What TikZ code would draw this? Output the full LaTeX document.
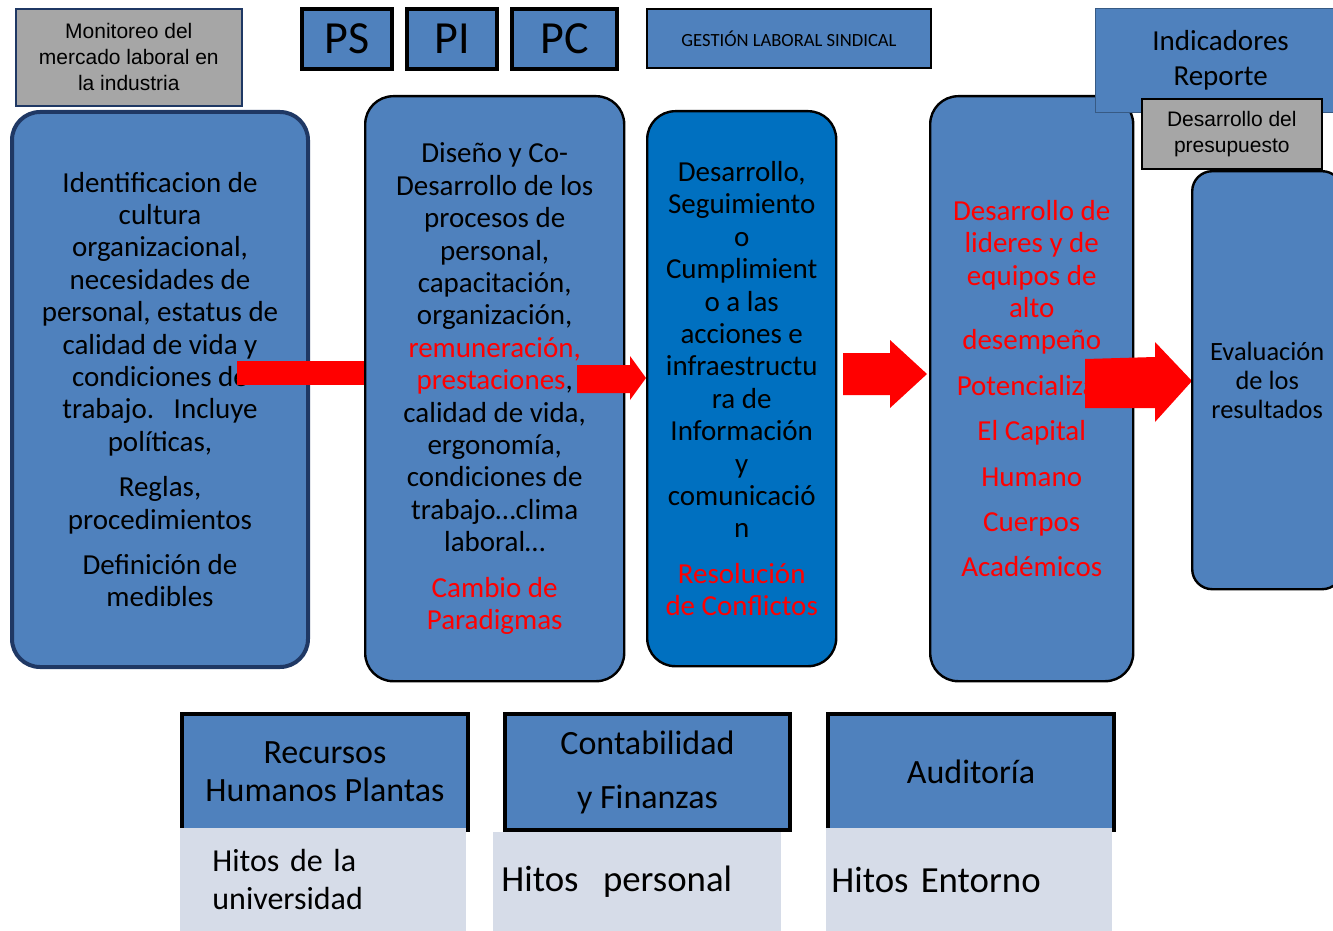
\documentclass[tikz,border=0pt]{standalone}
\usepackage{fontspec}
\setmainfont{Carlito}
\newfontfamily\arialf{Liberation Sans}
\usetikzlibrary{shapes,arrows,calc}
\definecolor{azul}{HTML}{4F81BD}
\definecolor{azulfuerte}{HTML}{0070C0}
\definecolor{gris}{HTML}{A6A6A6}
\definecolor{marino}{HTML}{1F3864}
\definecolor{claro}{HTML}{D6DCE8}
\newcommand{\cuerpo}{\fontsize{14.5}{16.2}\selectfont}
\tikzstyle{bloque} = [draw=black, line width=1.2pt, rounded corners=14pt, fill=azul, anchor=north west, align=center, inner sep=0pt, font=\cuerpo]
\tikzstyle{sigla} = [draw=black, line width=2pt, fill=azul, anchor=north west, inner sep=0pt, font=\fontsize{23}{26}\selectfont]
\tikzstyle{nota} = [draw=marino, line width=0.8pt, fill=gris, anchor=north west, align=center, inner sep=0pt, font=\arialf\fontsize{10.5}{13}\selectfont]
\tikzstyle{area} = [draw=black, line width=2pt, fill=azul, anchor=north west, align=center, inner sep=0pt, minimum width=143pt, minimum height=58pt, font=\fontsize{17}{19}\selectfont]
\tikzstyle{hito} = [fill=claro, anchor=north west, align=left, inner ysep=0pt, minimum height=51.5pt]
\tikzstyle{flecha} = [fill=red]

\begin{document}
\begin{tikzpicture}[x=0.5pt, y=-0.5pt]
    \useasboundingbox (0,0) rectangle (1333,931);
    \node[nota, minimum width=113pt, minimum height=48.5pt] (monitoreo) at (15,8) {Monitoreo del\\mercado laboral en\\la industria};
    \node[sigla, minimum width=45pt, minimum height=30pt] (ps) at (300,7) {PS};
    \node[sigla, minimum width=45pt, minimum height=30pt] (pi) at (405,7) {PI};
    \node[sigla, minimum width=52.5pt, minimum height=30pt] (pc) at (510,7) {PC};
    \node[draw=black, line width=1pt, fill=azul, anchor=north west, minimum width=142pt, minimum height=29.5pt, font=\fontsize{9.3}{11}\selectfont] (gestion) at (646,8) {GESTIÓN LABORAL SINDICAL};
    \node[bloque, draw=marino, line width=2pt, minimum width=148pt, minimum height=277.5pt] (cultura) at (10,110) {Identificacion de\\cultura\\organizacional,\\necesidades de\\personal, estatus de\\calidad de vida y\\condiciones de\\trabajo.\ \ \ Incluye\\políticas,\\[6.5pt]Reglas,\\procedimientos\\[6.5pt]Definición de\\medibles};
    \fill[flecha] (237,361) rectangle (364,385);
    \node[bloque, minimum width=129.5pt, minimum height=292.5pt] (diseno) at (364,95) {Diseño y Co-\\Desarrollo de los\\procesos de\\personal,\\capacitación,\\organización,\\\textcolor{red}{remuneración,}\\\textcolor{red}{prestaciones},\\calidad de vida,\\ergonomía,\\condiciones de\\trabajo…clima\\laboral…\\[6.5pt]\textcolor{red}{Cambio de}\\\textcolor{red}{Paradigmas}};
    \fill[flecha] (577,365) -- (630,365) -- (630,356) -- (646,378) -- (630,400) -- (630,393) -- (577,393) -- cycle;
    \node[bloque, fill=azulfuerte, minimum width=94.5pt, minimum height=277.5pt] (seguimiento) at (646,110) {Desarrollo,\\Seguimiento\\o\\Cumplimient\\o a las\\acciones e\\infraestructu\\ra de\\Información\\y\\comunicació\\n\\[6.5pt]\textcolor{red}{Resolución}\\\textcolor{red}{de Conflictos}};
    \fill[flecha] (843,353) -- (890,353) -- (890,340) -- (927,374) -- (890,408) -- (890,395) -- (843,395) -- cycle;
    \node[bloque, minimum width=101.5pt, minimum height=292.5pt, text=red] (lideres) at (929,95) {Desarrollo de\\lideres y de\\equipos de\\alto\\desempeño\\[6.5pt]Potencializar\\[6.5pt]El Capital\\[6.5pt]Humano\\[6.5pt]Cuerpos\\[6.5pt]Académicos};
    \node[draw=azul!70!black, line width=0.6pt, fill=azul, anchor=north west, align=center, minimum width=125pt, minimum height=52pt, font=\cuerpo\fontsize{14.5}{17.5}\selectfont] (indicadores) at (1095,8) {Indicadores\\Reporte};
    \node[nota, draw=black, minimum width=90pt, minimum height=35pt] (presupuesto) at (1141,98) {Desarrollo del\\presupuesto};
    \fill[flecha] (1085,359) -- (1155,357) -- (1155,342) -- (1192,381) -- (1155,422) -- (1155,408) -- (1085,408) -- cycle;
    \node[bloque, rounded corners=10pt, minimum width=75pt, minimum height=209pt, font=\fontsize{13.2}{14.5}\selectfont] (evaluacion) at (1191,170) {Evaluación\\de los\\resultados};
    \node[area] (rrhh) at (180,712) {Recursos\\Humanos Plantas};
    \node[area, minimum width=142.5pt] (contabilidad) at (503,712) {Contabilidad\\[8pt]y Finanzas};
    \node[area] (auditoria) at (826,712) {Auditoría};
    \node[hito, text width=111pt, inner xsep=16pt, font=\fontsize{16}{19}\selectfont] (hitouni) at (180,828) {Hitos de la\\universidad};
    \node[hito, text width=136pt, inner xsep=4pt, minimum height=49.5pt, font=\fontsize{18.4}{21}\selectfont] (hitopersonal) at (493,832) {Hitos\ \ personal};
    \node[hito, text width=138pt, inner xsep=2.5pt, font=\fontsize{18.4}{21}\selectfont] (hitoentorno) at (826,828) {Hitos Entorno};
\end{tikzpicture}
\end{document}
